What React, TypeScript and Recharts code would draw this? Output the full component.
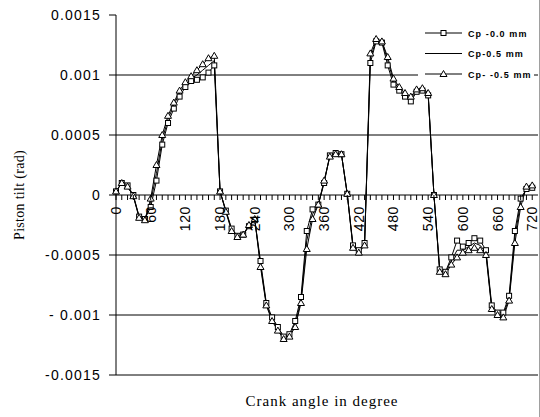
import { LineChart, Line, XAxis, YAxis, ReferenceLine, Legend } from 'recharts'

// crank angle, one point every 10 degrees over two revolutions
const ANGLES = Array.from({ length: 73 }, (_, i) => i * 10)

const CP_00 = [
  0.00003, 0.0001, 0.00008, 0.0, -0.00018, -0.0002, -0.0001, 0.00012, 0.00042, 0.0006,
  0.00072, 0.00082, 0.0009, 0.00095, 0.00096, 0.00098, 0.00102, 0.00108, 0.00003, -0.00013,
  -0.00028, -0.00034, -0.00033, -0.00026, -0.00021, -0.00055, -0.0009, -0.00102, -0.0011, -0.00118,
  -0.00116, -0.00105, -0.00085, -0.0003, -0.00012, -0.00008, 0.0001, 0.00033, 0.00035, 0.00034,
  0.00001, -0.00042, -0.00046, -0.0004, 0.0011, 0.00128, 0.00127, 0.00108, 0.00092, 0.00087,
  0.00082, 0.00078, 0.00086, 0.00087, 0.00083, 0.0, -0.00062, -0.00064, -0.00052, -0.00038,
  -0.00043, -0.0004, -0.00036, -0.00038, -0.00046, -0.00092, -0.00098, -0.00098, -0.00084, -0.0003,
  -0.00003, 0.00005, 0.00006,
]

const CP_P05 = [
  0.00003, 0.0001, 0.00007, -0.00001, -0.00018, -0.0002, -0.00006, 0.00018, 0.00046, 0.00063,
  0.00075, 0.00085, 0.00092, 0.00097, 0.001, 0.00104, 0.00108, 0.00112, 0.00003, -0.00013,
  -0.00029, -0.00035, -0.00033, -0.00026, -0.0002, -0.00058, -0.00091, -0.00104, -0.00112, -0.00119,
  -0.00117, -0.00108, -0.00088, -0.00038, -0.00016, -0.00008, 0.00011, 0.00033, 0.00035, 0.00034,
  0.00001, -0.00043, -0.00047, -0.00041, 0.00114, 0.00129, 0.00128, 0.00112, 0.00095, 0.00088,
  0.00084, 0.0008, 0.00087, 0.00088, 0.00084, 0.0, -0.00063, -0.00065, -0.00055, -0.00046,
  -0.00046, -0.00043, -0.0004, -0.00042, -0.00048, -0.00094, -0.00099, -0.001, -0.00086, -0.00035,
  -0.00006, 0.00006, 0.00007,
]

const CP_N05 = [
  0.00003, 0.0001, 0.00007, -0.00001, -0.00019, -0.00021, -0.00003, 0.00025, 0.0005, 0.00066,
  0.00077, 0.00087, 0.00094, 0.00099, 0.00104, 0.00109, 0.00114, 0.00116, 0.00003, -0.00014,
  -0.0003, -0.00035, -0.00033, -0.00025, -0.0002, -0.0006, -0.00092, -0.00105, -0.00113, -0.0012,
  -0.00118, -0.0011, -0.0009, -0.00045, -0.0002, -0.00008, 0.00012, 0.00032, 0.00034, 0.00034,
  0.00001, -0.00044, -0.00048, -0.00042, 0.00118, 0.0013, 0.00128, 0.00115, 0.00097, 0.0009,
  0.00085, 0.00082, 0.00088, 0.00089, 0.00085, 0.0, -0.00064, -0.00066, -0.00058, -0.00052,
  -0.00048, -0.00046, -0.00044, -0.00046, -0.0005, -0.00095, -0.001, -0.00102, -0.00088, -0.0004,
  -0.0001, 0.00007, 0.00008,
]

const SERIES_NAMES = ['Cp -0.0 mm', 'Cp-0.5 mm', 'Cp- -0.5 mm']

const X_LABELS = [0, 60, 120, 180, 240, 300, 360, 420, 480, 540, 600, 660, 720]
const Y_TICKS = [0.0015, 0.001, 0.0005, 0, -0.0005, -0.001, -0.0015]
const Y_LABELS = ['0.0015', '0.001', '0.0005', '0', '-0.0005', '- 0.001', '-0.0015']
const GRID_VALUES = [0.001, 0.0005, -0.0005, -0.001, -0.0015]

const data = ANGLES.map((a, i) => ({
  angle: a,
  cp00: CP_00[i],
  cpP05: CP_P05[i],
  cpN05: CP_N05[i],
}))

const W = 540
const H = 417
const MARGIN = { top: 15, right: 2, bottom: 41, left: 0 }
const X_AXIS_H = 1
const PLOT_H = H - MARGIN.top - MARGIN.bottom - X_AXIS_H
// domain is symmetric, so the zero line sits halfway down the plot
const ZERO_Y = MARGIN.top + PLOT_H / 2

const SANS = '"Liberation Sans", Arial, sans-serif'
const SERIF = '"Liberation Serif", "Times New Roman", serif'

function SquareDot(props: any) {
  const { cx, cy, index } = props
  if (cx == null || cy == null) return <g key={`s${index}`} />
  return (
    <rect key={`s${index}`} x={cx - 2.5} y={cy - 2.5} width={5} height={5}
      fill="#fff" stroke="#000" strokeWidth={1} />
  )
}

function TriangleDot(props: any) {
  const { cx, cy, index } = props
  if (cx == null || cy == null) return <g key={`t${index}`} />
  return (
    <path key={`t${index}`} d={`M${cx},${cy - 3.5}L${cx + 3.5},${cy + 2.5}L${cx - 3.5},${cy + 2.5}Z`}
      fill="#fff" stroke="#000" strokeWidth={1} />
  )
}

// minor tick on the zero line every 10 deg, rotated label every 60 deg
function AngleTick(props: any) {
  const { x, payload } = props
  const v = payload.value as number
  return (
    <g>
      <line x1={x} y1={ZERO_Y} x2={x} y2={ZERO_Y + 5} stroke="#000" strokeWidth={1} />
      {X_LABELS.includes(v) && (
        <text
          transform={`translate(${x + 5},${ZERO_Y + 11}) rotate(-90)`}
          textAnchor="end"
          fontFamily={SANS}
          fontSize={14}
          letterSpacing={0.6}
          fill="#000"
        >
          {v}
        </text>
      )}
    </g>
  )
}

function TiltTick(props: any) {
  const { x, y, payload } = props
  const i = Y_TICKS.indexOf(payload.value)
  return (
    <text x={x} y={y} dy={5} textAnchor="end" fontFamily={SANS} fontSize={14}
      letterSpacing={1.2} fill="#000">
      {i >= 0 ? Y_LABELS[i] : payload.value}
    </text>
  )
}

function LegendBox() {
  const rows = [
    { name: SERIES_NAMES[0], marker: 'square' },
    { name: SERIES_NAMES[1], marker: 'none' },
    { name: SERIES_NAMES[2], marker: 'triangle' },
  ]
  return (
    <svg width={116} height={60} style={{ display: 'block' }}>
      <rect x={0} y={0} width={116} height={60} fill="#fff" />
      {rows.map((r, i) => {
        const y = 9 + i * 20.5
        return (
          <g key={r.name}>
            <line x1={7} y1={y} x2={44} y2={y} stroke="#000" strokeWidth={1} />
            {r.marker === 'square' && (
              <rect x={23} y={y - 2.5} width={5} height={5} fill="#fff" stroke="#000" />
            )}
            {r.marker === 'triangle' && (
              <path d={`M25.5,${y - 3.5}L29,${y + 2.5}L22,${y + 2.5}Z`} fill="#fff" stroke="#000" />
            )}
            <text x={50} y={y + 3.5} fontFamily={SANS} fontSize={9} fontWeight="bold"
              letterSpacing={1.1} fill="#000">
              {r.name}
            </text>
          </g>
        )
      })}
    </svg>
  )
}

export default function App() {
  return (
    <div style={{ position: 'absolute', left: 0, top: 0, width: W, height: H, background: '#fff',
      borderRight: '1px solid #a0a0a0', boxSizing: 'border-box' }}>
      <LineChart width={W} height={H} data={data} margin={MARGIN}>
        {GRID_VALUES.map((v) => (
          <ReferenceLine key={v} y={v} stroke="#000" strokeWidth={1} ifOverflow="extendDomain" />
        ))}
        <ReferenceLine y={0} stroke="#000" strokeWidth={1} />
        <XAxis
          dataKey="angle"
          type="number"
          domain={[0, 730]}
          ticks={ANGLES}
          interval={0}
          height={X_AXIS_H}
          axisLine={false}
          tickLine={false}
          tick={<AngleTick />}
          label={{
            content: () => (
              <text x={322} y={406} textAnchor="middle" fontFamily={SERIF} fontSize={15}
                letterSpacing={1} fill="#000">
                Crank angle in degree
              </text>
            ),
          }}
        />
        <YAxis
          type="number"
          domain={[-0.0015, 0.0015]}
          ticks={Y_TICKS}
          interval={0}
          width={116}
          tickSize={7}
          tickMargin={8}
          axisLine={{ stroke: '#000' }}
          tickLine={{ stroke: '#000' }}
          tick={<TiltTick />}
          label={{
            content: () => (
              <text transform={`translate(24,${ZERO_Y}) rotate(-90)`} textAnchor="middle"
                fontFamily={SERIF} fontSize={14} letterSpacing={0.3} fill="#000">
                Piston tilt (rad)
              </text>
            ),
          }}
        />
        <Legend
          layout="vertical"
          align="center"
          verticalAlign="middle"
          wrapperStyle={{ left: 418, top: 24, width: 116 }}
          content={() => <LegendBox />}
        />
        <Line dataKey="cp00" name={SERIES_NAMES[0]} stroke="#000" strokeWidth={1}
          dot={SquareDot} activeDot={false} isAnimationActive={false} />
        <Line dataKey="cpP05" name={SERIES_NAMES[1]} stroke="#000" strokeWidth={1}
          dot={false} activeDot={false} isAnimationActive={false} />
        <Line dataKey="cpN05" name={SERIES_NAMES[2]} stroke="#000" strokeWidth={1}
          dot={TriangleDot} activeDot={false} isAnimationActive={false} />
      </LineChart>
    </div>
  )
}
